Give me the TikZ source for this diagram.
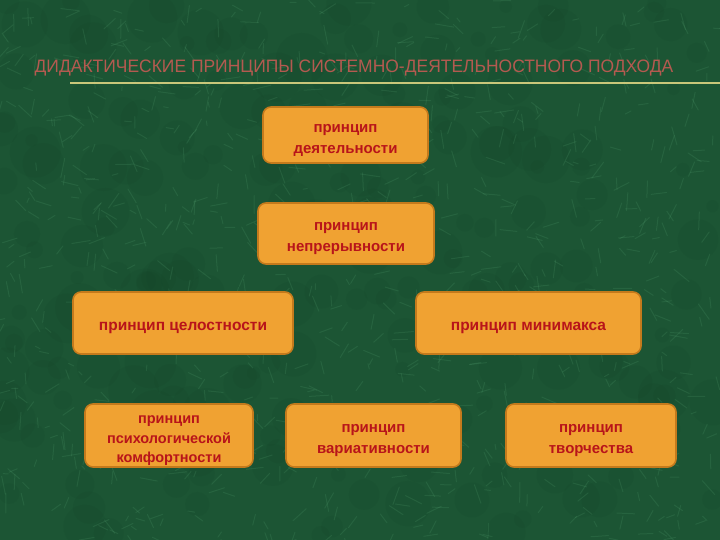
\documentclass[tikz,border=0pt]{standalone}
\usepackage{fontspec}
\setmainfont{Liberation Sans}
\usepackage{tikz}
\usetikzlibrary{positioning}

\definecolor{marble}{HTML}{1C5534}
\definecolor{marbledark}{HTML}{123F25}
\definecolor{marblelight}{HTML}{5FAE7C}
\definecolor{boxfill}{HTML}{F0A232}
\definecolor{boxline}{HTML}{C47A1C}
\definecolor{boxtext}{HTML}{B8141A}
\definecolor{titletext}{HTML}{B45A50}
\definecolor{titleline}{HTML}{C9C77A}

\newcommand{\princstrut}{\rule{0pt}{18pt}}

\tikzset{
	princbox/.style={shape=rectangle, rounded corners=8pt, draw=boxline, line width=1.6pt,
		fill=boxfill, text=boxtext, align=center, inner sep=2pt,
		font=\bfseries\fontsize{15}{21}\selectfont},
	titlenode/.style={text=titletext, font=\fontsize{18}{20}\selectfont}
}

\begin{document}
\begin{tikzpicture}[x=1pt, y=-1pt]
	\useasboundingbox (0,0) rectangle (720,540);
	% background
	\begin{scope}
		\clip (0,0) rectangle (720,540);
		\fill[marble] (0,0) rectangle (720,540);
		\pgfmathsetseed{11}
		\foreach \i in {1,...,220}{
			\fill[marbledark, opacity=0.12] (rnd*720,rnd*540) circle (6+rnd*20);
		}
		\foreach \i in {1,...,900}{
			\pgfmathsetmacro{\px}{rnd*720}
			\pgfmathsetmacro{\py}{rnd*540}
			\pgfmathsetmacro{\pa}{rnd*180}
			\draw[marblelight, opacity=0.16, line width=1pt, line cap=round] (\px,\py) -- ++(\pa:4+rnd*16);
		}
	\end{scope}
	
	% title
	\node[titlenode] (title) at (354,68.5) {\scalebox{0.97}[1]{ДИДАКТИЧЕСКИЕ ПРИНЦИПЫ СИСТЕМНО-ДЕЯТЕЛЬНОСТНОГО ПОДХОДА}};
	\coordinate (ls) at (70,83);
	\coordinate (le) at (720,83);
	\draw[titleline, line width=1.5pt] (ls) -- (le);
	
	\node[princbox, minimum width=165pt, minimum height=56pt] (act) at (345.5,135) {\princstrut принцип\\деятельности};
	\node[princbox, minimum width=176pt, minimum height=61pt] (cont) at (346,233.5) {\princstrut принцип\\непрерывности};
	\node[princbox, minimum width=220pt, minimum height=62pt, font=\bfseries\fontsize{15.5}{21}\selectfont] (whole) at (183,323) {\princstrut принцип целостности};
	\node[princbox, minimum width=225pt, minimum height=62pt, font=\bfseries\fontsize{15.5}{21}\selectfont] (minmax) at (528.5,323) {\princstrut принцип минимакса};
	\node[princbox, minimum width=168pt, minimum height=63pt, inner ysep=0pt, font=\bfseries\fontsize{14.5}{19.5}\selectfont] (comf) at (169,435.5) {\rule{0pt}{18.5pt}принцип\\психологической\\комфортности};
	\node[princbox, minimum width=175pt, minimum height=63pt] (var) at (373.5,435.5) {\princstrut принцип\\вариативности};
	\node[princbox, minimum width=170pt, minimum height=63pt] (creat) at (591,435.5) {\princstrut принцип\\творчества};
\end{tikzpicture}
\end{document}
